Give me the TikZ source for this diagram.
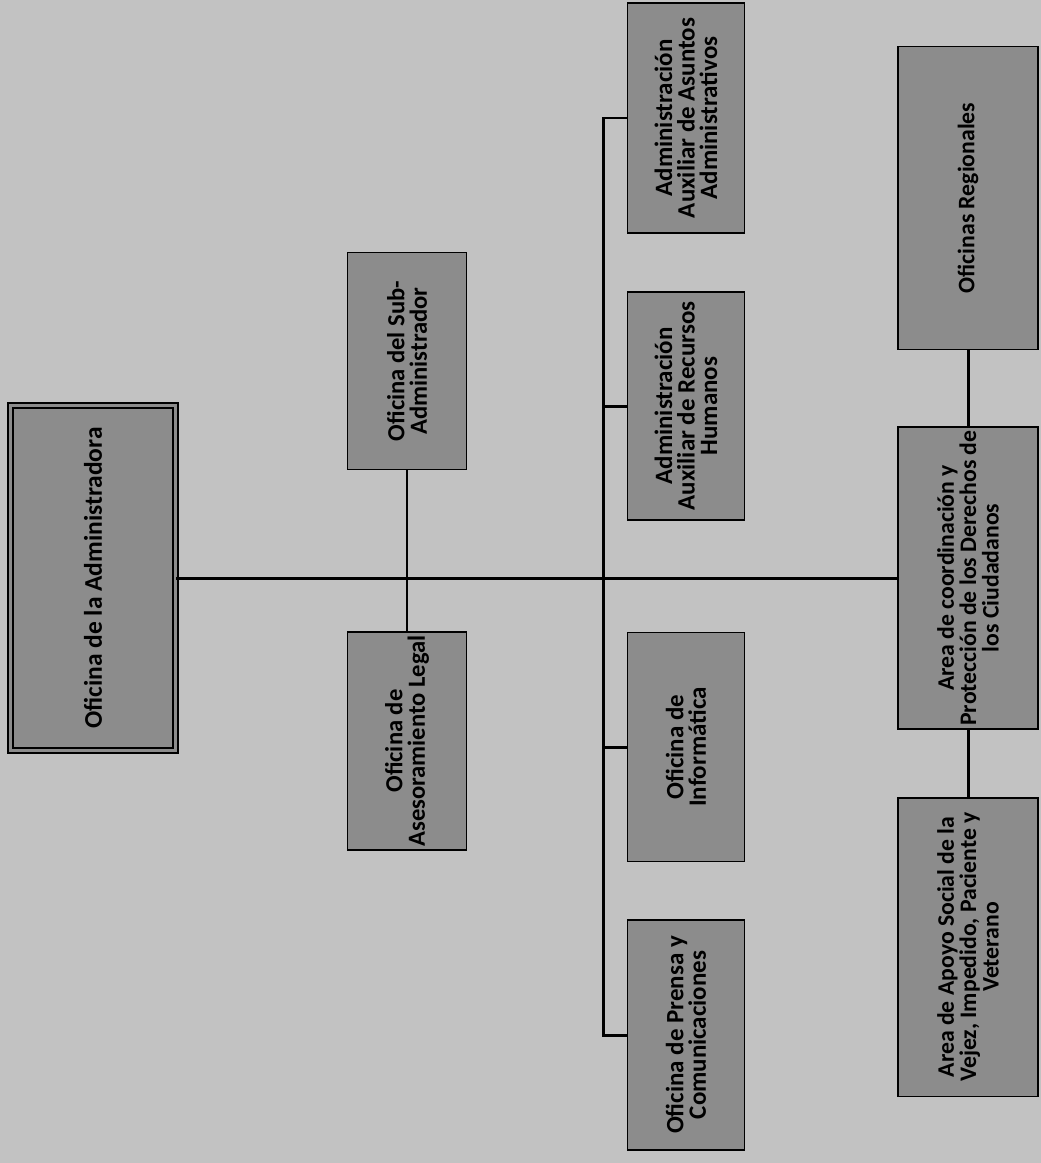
\documentclass[tikz,border=0pt]{standalone}
\usepackage{fontspec}
\setmainfont{Carlito}
\usetikzlibrary{positioning}
\definecolor{bggray}{gray}{0.76}
\definecolor{boxgray}{gray}{0.55}

\begin{document}
\begin{tikzpicture}[x=0.02cm, y=-0.02cm,
  office/.style={draw, line width=1.1pt, fill=boxgray, rotate=90, align=center, inner sep=2pt},
  txt/.style={font=\fontsize{#1}{12.8}\selectfont\bfseries},
  link/.style={line width=1.7pt}]

\fill[bggray] (0,0) rectangle (1041,1163);
\useasboundingbox (0,0) rectangle (1041,1163);

\node[office, txt=14.5, double=boxgray, double distance=1.5pt, minimum width=6.9cm, minimum height=3.3cm] (admin) at (93,578) {Oficina de la Administradora};

\node[office, txt=14, minimum width=4.34cm, minimum height=2.38cm] (sub) at (407,361) {Oficina del Sub-\\Administrador};
\node[office, txt=14, minimum width=4.34cm, minimum height=2.38cm] (legal) at (407,741) {Oficina de\\Asesoramiento Legal};

\node[office, txt=14.2, minimum width=4.6cm, minimum height=2.34cm] (asuntos) at (686,118) {Administración\\Auxiliar de Asuntos\\Administrativos};
\node[office, txt=14.2, minimum width=4.56cm, minimum height=2.34cm] (rrhh) at (686,406) {Administración\\Auxiliar de Recursos\\Humanos};
\node[office, txt=14.2, minimum width=4.58cm, minimum height=2.34cm] (info) at (686,747) {Oficina de\\Informática};
\node[office, txt=14.2, minimum width=4.6cm, minimum height=2.34cm] (prensa) at (686,1035) {Oficina de Prensa y\\Comunicaciones};

\node[office, txt=13.5, minimum width=6.06cm, minimum height=2.8cm] (regional) at (968,198) {Oficinas Regionales};
\node[office, txt=13.5, minimum width=6cm, minimum height=2.8cm] (coord) at (968,578) {Area de coordinación y\\Protección de los Derechos de\\los Ciudadanos};
\node[office, txt=13.5, minimum width=5.98cm, minimum height=2.8cm] (apoyo) at (968,947) {Area de Apoyo Social de la\\Vejez, Impedido, Paciente y\\Veterano};

\coordinate (spine) at (603,578);

\begin{scope}[link]
\draw (admin.south) -- (coord.north);
\draw (sub.west) -- (legal.east);
\draw (asuntos.north) -- (asuntos.north -| spine) -- (prensa.north -| spine) -- (prensa.north);
\draw (rrhh.north) -- (rrhh.north -| spine);
\draw (info.north) -- (info.north -| spine);
\draw (regional.west) -- (coord.east);
\draw (coord.west) -- (apoyo.east);
\end{scope}

\end{tikzpicture}
\end{document}
